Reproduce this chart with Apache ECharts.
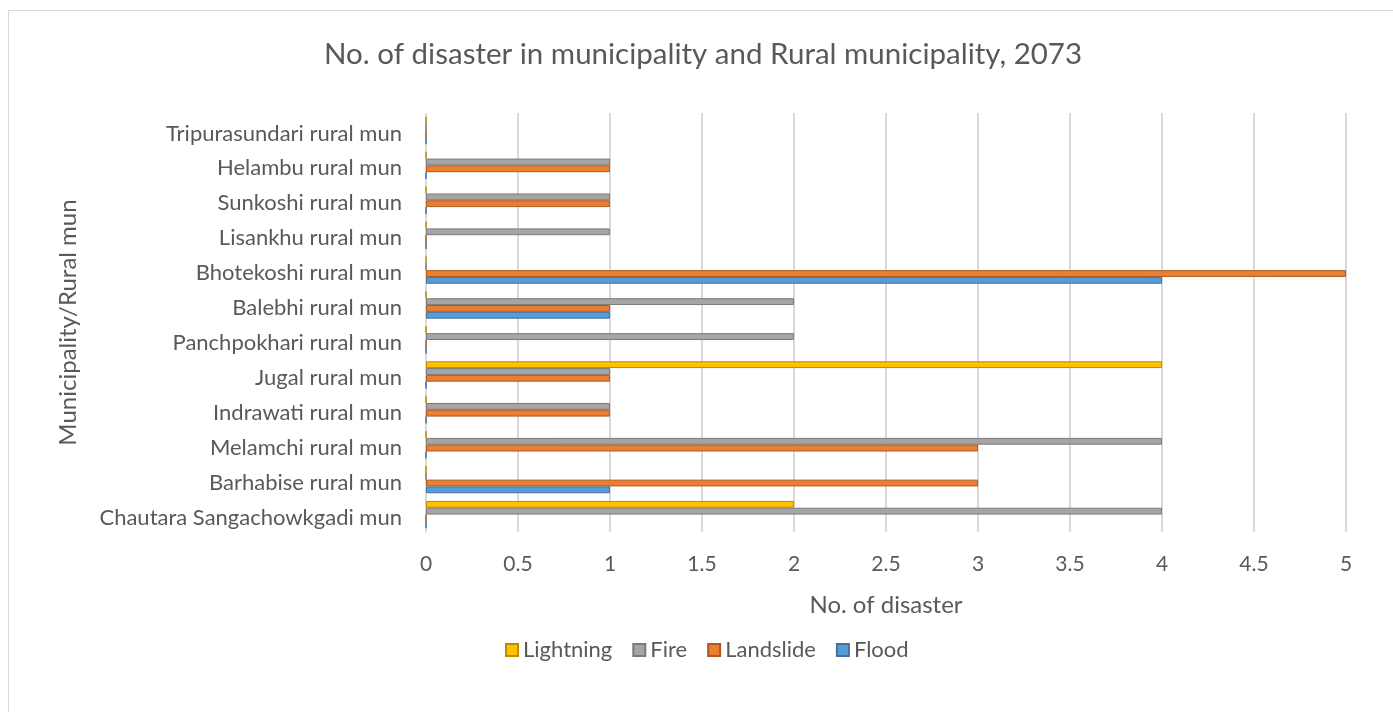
<!DOCTYPE html>
<html><head><meta charset="utf-8">
<script src="https://cdn.jsdelivr.net/npm/echarts@6/dist/echarts.min.js"></script>
<style>html,body{margin:0;padding:0;background:#fff}#c{width:1393px;height:712px}
#frame{position:absolute;left:8px;top:10px;width:1400px;height:720px;border:1px solid #d9d9d9;box-sizing:border-box;pointer-events:none}</style>
</head><body><div id="c"></div><div id="frame"></div>
<script>
const categories = ["Chautara Sangachowkgadi mun","Barhabise rural mun","Melamchi rural mun","Indrawati rural mun","Jugal rural mun","Panchpokhari rural mun","Balebhi rural mun","Bhotekoshi rural mun","Lisankhu rural mun","Sunkoshi rural mun","Helambu rural mun","Tripurasundari rural mun"];
const flood     = [0,1,0,0,0,0,1,4,0,0,0,0];
const landslide = [0,3,3,1,1,0,1,5,0,1,1,0];
const fire      = [4,0,4,1,1,2,2,0,1,1,1,0];
const lightning = [2,0,0,0,4,0,0,0,0,0,0,0];
const xTicks = [0,0.5,1,1.5,2,2.5,3,3.5,4,4.5,5];

const font = "Lato";
const chart = echarts.init(document.getElementById('c'));
function s(name, data, color, border) {
  return {name, type:'bar', data, barGap:'0%', barCategoryGap:'22%',
    itemStyle:{color, borderColor:border, borderWidth:1}};
}
chart.setOption({
  animation:false,
  title:{text:"No. of disaster in municipality and Rural municipality, 2073", left:319, top:34,
    textStyle:{fontFamily:font, fontSize:29.5, fontWeight:'normal', color:'#595959'}},
  grid:{left:426, right:47, top:113, bottom:180, containLabel:false},
  legend:{data:['Lightning','Fire','Landslide','Flood'], bottom:46, left:500, itemWidth:12, itemHeight:12, itemGap:20,
    icon:'rect', textStyle:{fontFamily:font, fontSize:22, color:'#595959'}},
  xAxis:{type:'value', min:0, max:5, interval:0.5,
    name:'No. of disaster', nameLocation:'middle', nameGap:61,
    nameTextStyle:{fontFamily:font, fontSize:24, color:'#595959'},
    axisLine:{show:false}, axisTick:{show:false},
    axisLabel:{fontFamily:font, fontSize:21, color:'#595959', margin:22, formatter:v=>String(v)},
    splitLine:{lineStyle:{color:'#d9d9d9', width:2}}},
  yAxis:{type:'category', data:categories,
    name:'Municipality/Rural mun', nameLocation:'middle', nameGap:346, nameRotate:90,
    nameTextStyle:{fontFamily:font, fontSize:24, color:'#595959'},
    axisLine:{show:false}, axisTick:{show:false},
    axisLabel:{color:'#595959', margin:24, formatter:v=>'{a|'+v+'}',
      rich:{a:{fontFamily:font, fontSize:22, color:'#595959', padding:[6,0,0,0]}}}},
  series:[
    s('Lightning', lightning, '#ffc000', '#bc8c00'),
    s('Fire', fire, '#a5a5a5', '#7b7b7b'),
    s('Landslide', landslide, '#ed7d31', '#ae5a21'),
    s('Flood', flood, '#5b9bd5', '#41719c')
  ]
});
</script></body></html>
